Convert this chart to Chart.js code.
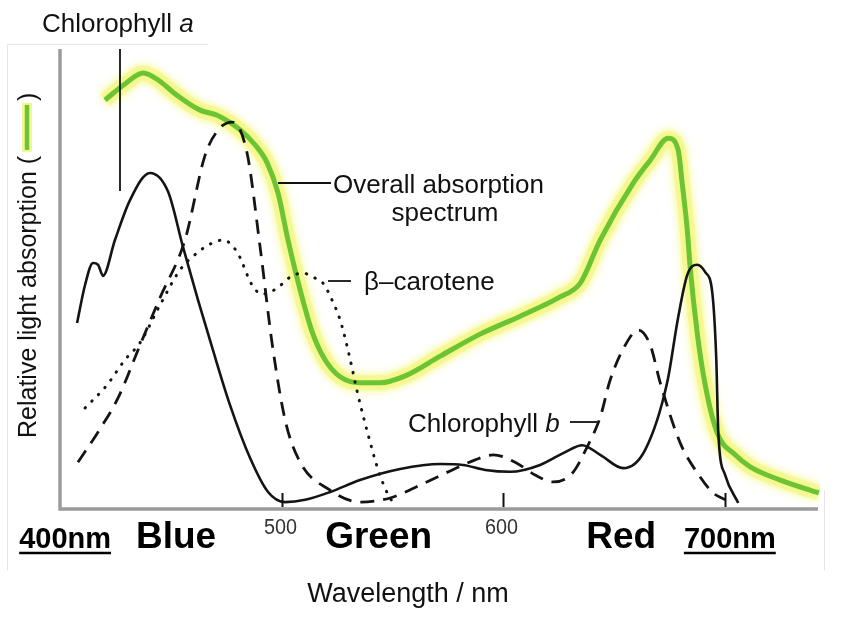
<!DOCTYPE html>
<html>
<head>
<meta charset="utf-8">
<script src="https://cdn.jsdelivr.net/npm/chart.js@4.4.1/dist/chart.umd.min.js"></script>
<style>
  html, body { margin: 0; background: #fff; }
  canvas { display: block; }
</style>
</head>
<body>
<canvas id="spectrum" width="850" height="621"></canvas>
<script>
// wavelength (nm) and relative absorption (0-100)
const overallNm = [420.3, 429.3, 437.5, 445.1, 451.0, 463.2, 470.9, 481.3, 488.1, 493.5, 498.4, 502.9, 508.4, 513.8, 519.6, 526.4, 535.4, 544.5, 555.8, 571.6, 589.6, 607.7, 625.7, 634.8, 643.8, 658.7, 666.4, 674.5, 679.0, 680.8, 683.1, 684.4, 687.6, 691.2, 696.6, 704.7, 711.5, 725.1, 742.5];
const overallAbs = [89.1, 92.6, 95.0, 93.2, 90.8, 86.9, 85.8, 82.6, 79.3, 75.4, 68.8, 58.6, 47.7, 38.6, 32.5, 28.8, 27.5, 27.5, 29.0, 33.3, 38.1, 42.0, 46.2, 49.2, 58.6, 71.0, 76.0, 80.8, 78.2, 71.0, 60.8, 52.7, 38.3, 27.0, 16.6, 11.8, 9.2, 6.3, 3.5];

const chlANm = [407.7, 411.3, 414.9, 417.2, 419.4, 424.8, 431.6, 440.6, 448.8, 455.5, 462.3, 468.6, 476.7, 485.8, 493.9, 501.6, 510.6, 521.9, 535.4, 553.5, 571.6, 581.9, 591.9, 603.2, 616.7, 628.0, 635.7, 643.8, 654.2, 664.1, 674.0, 679.0, 683.1, 687.6, 691.2, 694.4, 696.2, 697.1, 700.2, 706.1];
const chlAAbs = [40.5, 48.8, 53.6, 53.2, 50.8, 58.6, 67.3, 73.2, 69.1, 57.1, 45.5, 35.3, 22.7, 11.1, 3.7, 1.5, 2.0, 3.7, 6.3, 8.7, 9.8, 9.6, 8.5, 8.1, 9.6, 12.4, 13.9, 11.8, 8.9, 12.9, 27.5, 41.8, 51.0, 53.2, 51.6, 47.1, 32.5, 16.6, 7.4, 1.3];

const chlBNm = [408.1, 417.2, 426.2, 436.1, 445.1, 456.4, 465.5, 472.2, 477.7, 484.4, 490.3, 495.7, 501.6, 508.4, 521.9, 535.4, 549.0, 562.5, 576.1, 587.4, 595.5, 605.4, 614.4, 622.6, 631.2, 637.9, 643.8, 648.3, 655.1, 661.0, 666.4, 670.9, 679.9, 688.0, 694.8, 700.2];
const chlBAbs = [10.2, 16.8, 24.2, 35.7, 46.0, 58.6, 77.1, 83.0, 84.3, 77.6, 57.1, 36.2, 19.4, 10.2, 4.1, 1.5, 2.4, 5.2, 8.3, 10.7, 11.8, 10.2, 7.4, 5.9, 7.8, 13.5, 20.0, 28.1, 35.7, 39.0, 35.7, 27.5, 14.4, 7.6, 3.5, 2.0];

const caroteneNm = [411.3, 421.2, 429.3, 436.1, 445.1, 454.2, 461.9, 467.7, 473.6, 479.9, 486.7, 491.2, 494.8, 498.0, 503.8, 509.7, 514.2, 518.7, 522.8, 526.4, 530.0, 534.5, 539.1, 543.6, 548.1, 551.2];
const caroteneAbs = [22.0, 27.0, 32.5, 36.2, 44.4, 52.1, 55.8, 57.7, 58.6, 56.0, 48.8, 46.8, 47.3, 48.1, 50.5, 51.4, 50.5, 49.2, 45.5, 41.2, 34.6, 24.8, 16.1, 8.5, 3.1, 0.9];

const tickValues = [500, 600, 700];
const tickLabels = ['500', '600', ''];
const bandLabels = ['Blue', 'Green', 'Red'];
const bandCenters = [452.4, 543.8, 653.3];
const endLabels = ['400nm', '700nm'];
const endCenters = [402.3, 702.3];

function pts(xs, ys) {
  return xs.map((x, i) => ({ x: x, y: ys[i] }));
}

const glowPlugin = {
  id: 'glow',
  beforeDatasetDraw(chart, args) {
    if (args.index === 0) {
      chart.ctx.save();
      chart.ctx.shadowColor = 'rgba(240,245,60,0.9)';
      chart.ctx.shadowBlur = 9;
    }
  },
  afterDatasetDraw(chart, args) {
    if (args.index === 0) chart.ctx.restore();
  }
};

function labelWithItalic(ctx, plain, italic, x, y, size) {
  ctx.font = size + 'px "Liberation Sans", Arial, sans-serif';
  ctx.fillText(plain, x, y);
  const w = ctx.measureText(plain).width;
  ctx.font = 'italic ' + size + 'px "Liberation Sans", Arial, sans-serif';
  ctx.fillText(italic, x + w, y);
  return w + ctx.measureText(italic).width;
}

const decor = {
  id: 'decor',
  beforeDatasetsDraw(chart) {
    const { ctx, chartArea: a } = chart;
    ctx.save();
    // faint frame
    ctx.strokeStyle = '#e6e6e6';
    ctx.lineWidth = 1;
    ctx.beginPath();
    ctx.moveTo(7.5, 570); ctx.lineTo(7.5, 44.5); ctx.lineTo(208, 44.5);
    ctx.moveTo(824.5, 490); ctx.lineTo(824.5, 570);
    ctx.stroke();
    // axes
    ctx.strokeStyle = '#9b9b9b';
    ctx.lineWidth = 3.5;
    ctx.beginPath();
    ctx.moveTo(a.left, a.top - 1);
    ctx.lineTo(a.left, a.bottom);
    ctx.lineTo(a.right - 2, a.bottom);
    ctx.stroke();
    ctx.restore();
  },
  afterDatasetsDraw(chart) {
    const { ctx, chartArea: a } = chart;
    const xs = chart.scales.x;
    ctx.save();
    ctx.fillStyle = '#111';
    ctx.strokeStyle = '#111';

    // tick marks and condensed tick labels
    ctx.lineWidth = 2;
    ctx.textAlign = 'center';
    ctx.font = '22px "Liberation Sans", Arial, sans-serif';
    tickValues.forEach((v, i) => {
      const px = Math.round(xs.getPixelForValue(v)) + 0.5;
      ctx.strokeStyle = '#111';
      ctx.beginPath();
      ctx.moveTo(px, a.bottom - 16);
      ctx.lineTo(px, a.bottom - 2);
      ctx.stroke();
      if (tickLabels[i]) {
        ctx.save();
        ctx.fillStyle = '#333';
        ctx.translate(px - 2, a.bottom + 25);
        ctx.scale(0.9, 1);
        ctx.fillText(tickLabels[i], 0, 0);
        ctx.restore();
      }
    });

    // colour bands
    ctx.fillStyle = '#000';
    ctx.font = 'bold 37px "Liberation Sans", Arial, sans-serif';
    bandLabels.forEach((t, i) => {
      ctx.fillText(t, xs.getPixelForValue(bandCenters[i]), 548);
    });

    // underlined end labels
    ctx.font = 'bold 29px "Liberation Sans", Arial, sans-serif';
    ctx.lineWidth = 2.5;
    ctx.strokeStyle = '#000';
    endLabels.forEach((t, i) => {
      const cx = xs.getPixelForValue(endCenters[i]);
      ctx.fillText(t, cx, 548);
      const w = ctx.measureText(t).width;
      ctx.beginPath();
      ctx.moveTo(cx - w / 2, 553);
      ctx.lineTo(cx + w / 2, 553);
      ctx.stroke();
    });

    // x axis title
    ctx.fillStyle = '#111';
    ctx.font = '27px "Liberation Sans", Arial, sans-serif';
    ctx.fillText('Wavelength / nm', 408, 602);

    // y axis title with legend swatch
    ctx.save();
    ctx.translate(36, 438);
    ctx.rotate(-Math.PI / 2);
    ctx.textAlign = 'left';
    ctx.font = '25px "Liberation Sans", Arial, sans-serif';
    const yt = 'Relative light absorption (';
    ctx.fillText(yt, 0, 0);
    const w = ctx.measureText(yt).width;
    ctx.lineCap = 'butt';
    ctx.strokeStyle = 'rgba(240,245,120,0.8)';
    ctx.lineWidth = 10;
    ctx.beginPath(); ctx.moveTo(w + 4, -9); ctx.lineTo(w + 53, -9); ctx.stroke();
    ctx.strokeStyle = '#6cc435';
    ctx.lineWidth = 4.5;
    ctx.beginPath(); ctx.moveTo(w + 6, -9); ctx.lineTo(w + 51, -9); ctx.stroke();
    ctx.fillText(')', w + 55, 0);
    ctx.restore();

    // annotations
    ctx.textAlign = 'left';
    ctx.fillStyle = '#111';
    ctx.strokeStyle = '#111';
    ctx.lineWidth = 1.8;
    labelWithItalic(ctx, 'Chlorophyll ', 'a', 42, 32, 26);
    ctx.beginPath(); ctx.moveTo(120, 49); ctx.lineTo(120, 191); ctx.stroke();

    ctx.font = '26px "Liberation Sans", Arial, sans-serif';
    ctx.fillText('Overall absorption', 333, 193);
    ctx.textAlign = 'center';
    ctx.fillText('spectrum', 445, 221);
    ctx.textAlign = 'left';
    ctx.beginPath(); ctx.moveTo(278, 183); ctx.lineTo(331, 183); ctx.stroke();

    ctx.fillText('\u03b2\u2013carotene', 364, 290);
    ctx.beginPath(); ctx.moveTo(328, 281); ctx.lineTo(351, 281); ctx.stroke();

    labelWithItalic(ctx, 'Chlorophyll ', 'b', 408, 432, 26);
    ctx.beginPath(); ctx.moveTo(570, 422); ctx.lineTo(597, 422); ctx.stroke();

    ctx.restore();
  }
};

const ctx = document.getElementById('spectrum').getContext('2d');
new Chart(ctx, {
  type: 'line',
  data: {
    datasets: [
      {
        label: 'glow',
        data: pts(overallNm, overallAbs),
        borderColor: 'rgba(244,247,140,0.75)',
        borderWidth: 15,
        order: 10
      },
      {
        label: 'Overall absorption spectrum',
        data: pts(overallNm, overallAbs),
        borderColor: '#6cc435',
        borderWidth: 5,
        order: 9
      },
      {
        label: 'Chlorophyll a',
        data: pts(chlANm, chlAAbs),
        borderColor: '#141414',
        borderWidth: 2.6,
        order: 1
      },
      {
        label: 'Chlorophyll b',
        data: pts(chlBNm, chlBAbs),
        borderColor: '#141414',
        borderWidth: 2.8,
        borderDash: [14, 9],
        order: 2
      },
      {
        label: 'beta-carotene',
        data: pts(caroteneNm, caroteneAbs),
        borderColor: '#141414',
        borderWidth: 3,
        borderDash: [0.5, 9],
        borderCapStyle: 'round',
        order: 3
      }
    ]
  },
  options: {
    responsive: false,
    animation: false,
    layout: { padding: { left: 60, right: 30, top: 50, bottom: 112 } },
    elements: {
      point: { radius: 0 },
      line: { cubicInterpolationMode: 'monotone', fill: false, borderJoinStyle: 'round' }
    },
    plugins: { legend: { display: false }, tooltip: { enabled: false } },
    scales: {
      x: { type: 'linear', min: 400, max: 743, display: false },
      y: { min: 0, max: 100, display: false }
    }
  },
  plugins: [glowPlugin, decor]
});
</script>
</body>
</html>
